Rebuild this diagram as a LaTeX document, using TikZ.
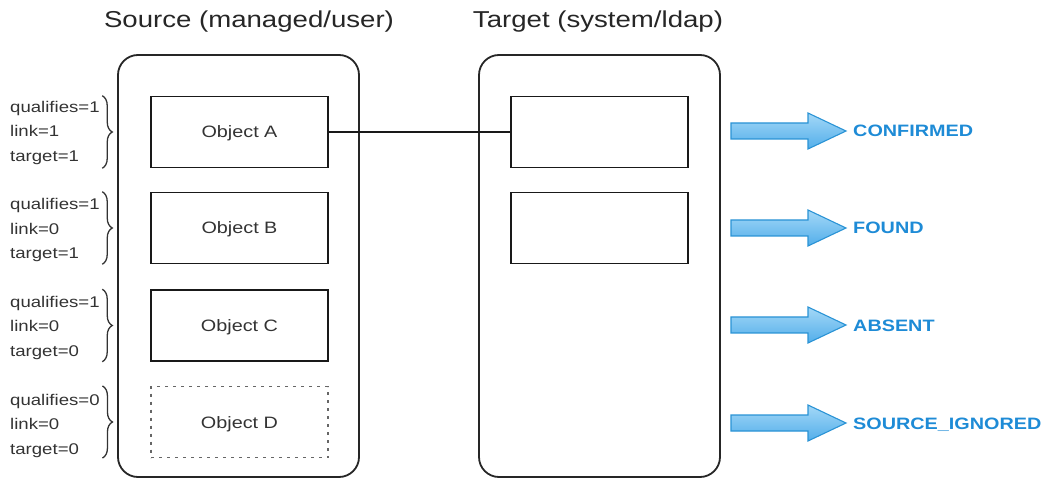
\documentclass[tikz,border=0pt]{standalone}
\usepackage{fontspec}
\setmainfont{Liberation Sans}[FakeStretch=1.2]
\usetikzlibrary{decorations.pathreplacing}
\definecolor{txt}{HTML}{333333}
\definecolor{stat}{HTML}{1E8BD6}
\definecolor{arrline}{HTML}{2A93D5}
\definecolor{arrtop}{HTML}{A4D8F7}
\definecolor{arrbot}{HTML}{52AEEA}
\tikzset{
  container/.style={draw=black!85, line width=1.8pt, rounded corners=20pt, minimum width=241pt, minimum height=422pt, inner sep=0pt},
  objbox/.style={draw=black!90, line width=1.5pt, minimum width=177pt, minimum height=71pt, inner sep=0pt, text=txt, text height=12pt, text depth=0pt, font=\fontsize{16.5}{20}\selectfont},
  ghostbox/.style={objbox, draw=black!60, line width=1.1pt, dash pattern=on 3pt off 5pt},
  title/.style={text=black!85, font=\fontsize{23}{27}\selectfont},
  cond/.style={anchor=west, align=left, text=txt, inner sep=0pt, font=\fontsize{15.5}{24.5}\selectfont},
  bracestyle/.style={draw=black!80, line width=1.3pt, decorate, decoration={brace, amplitude=10pt}},
  statlabel/.style={anchor=west, text=stat, inner sep=0pt, text height=12pt, text depth=0pt, font=\bfseries\fontsize{16.5}{20}\selectfont},
  statarrow/.style={draw=arrline, line width=1.1pt, top color=arrtop, bottom color=arrbot, line join=miter},
  link/.style={draw=black!90, line width=1.5pt}
}
\begin{document}
\begin{tikzpicture}[x=1pt,y=-1pt]
\useasboundingbox (0,0) rectangle (1045,481);
% titles
\node[title] (tsrc) at (249,22) {Source (managed/user)};
\node[title] (ttgt) at (598,22) {Target (system/ldap)};
% containers
\node[container] (src) at (238.5,266) {};
\node[container] (tgt) at (599.5,266) {};
% source objects
\node[objbox] (oA) at (239.5,132) {Object A};
\node[objbox] (oB) at (239.5,228) {Object B};
\node[objbox] (oC) at (239.5,325.5) {Object C};
\node[ghostbox] (oD) at (239.5,422) {Object D};
% target objects
\node[objbox] (tA) at (599.5,132) {};
\node[objbox] (tB) at (599.5,228) {};
% link
\draw[link] (oA.east) -- (tA.west);
% conditions
\node[cond] (cA) at (10,132.5) {qualifies=1\\link=1\\target=1};
\node[cond] (cB) at (10,230) {qualifies=1\\link=0\\target=1};
\node[cond] (cC) at (10,327.5) {qualifies=1\\link=0\\target=0};
\node[cond] (cD) at (10,425.5) {qualifies=0\\link=0\\target=0};
\foreach \o in {oA,oB,oC,oD}{
  \draw[bracestyle] ([xshift=-48pt]\o.north west) -- ([xshift=-48pt]\o.south west);
}
% status arrows and labels
\foreach \c/\n/\t in {131/sA/CONFIRMED,228/sB/FOUND,325/sC/ABSENT,423/sD/SOURCE\_IGNORED}{
  \path[statarrow] (731,\c-8) -- (808,\c-8) -- (808,\c-18) -- (846,\c) -- (808,\c+18) -- (808,\c+8) -- (731,\c+8) -- cycle;
  \node[statlabel] (\n) at (853,\c) {\t};
}
\end{tikzpicture}
\end{document}
